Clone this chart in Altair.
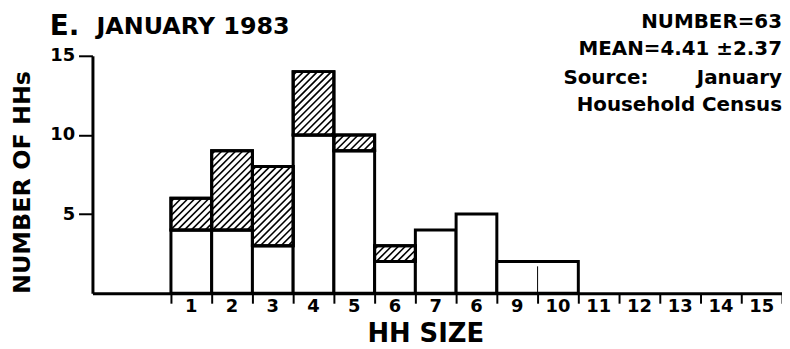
import altair as alt
import pandas as pd
import numpy as np

# ---- data ----
bin_start = [0, 1, 2, 3, 4, 5, 6, 7, 8]
bin_end = [1, 2, 3, 4, 5, 6, 7, 8, 10]
white_counts = [4, 4, 3, 10, 9, 2, 4, 5, 2]
hatched_counts = [2, 5, 5, 4, 1, 1, 0, 0, 0]
x_labels = ["1", "2", "3", "4", "5", "6", "7", "6", "9", "10", "11", "12", "13", "14", "15"]
divider_x = [9]
divider_top = [1.7]

FONT = "DejaVu Sans"
W, H = 694, 239
XMIN, XMAX = -79 / 41, 15
YMIN, YMAX = 0, 15
PX = W / (XMAX - XMIN)
PY = H / (YMAX - YMIN)

bars = pd.DataFrame({
    "start": bin_start, "end": bin_end,
    "white": white_counts,
    "top": [w + h for w, h in zip(white_counts, hatched_counts)],
    "hatched": hatched_counts,
})
bars["zero"] = 0
hat = bars[bars["hatched"] > 0]

# hatch segments inside each hatched rectangle ("/" direction)
SP = 7.0
segs = []
for _, r in hat.iterrows():
    w = (r["end"] - r["start"]) * PX
    h = (r["top"] - r["white"]) * PY
    c = -h + SP / 2
    while c < w:
        xa = max(0.0, c)
        xb = min(w, c + h)
        if xb - xa > 0.5:
            segs.append({
                "x": r["start"] + xa / PX, "y": r["white"] + (xa - c) / PY,
                "x2": r["start"] + xb / PX, "y2": r["white"] + (xb - c) / PY,
            })
        c += SP
segs = pd.DataFrame(segs)

xscale = alt.Scale(domain=[XMIN, XMAX], nice=False, zero=False)
yscale = alt.Scale(domain=[YMIN, YMAX], nice=False)

white_bars = alt.Chart(bars).mark_rect(fill="white", stroke="black", strokeWidth=3).encode(
    x=alt.X("start:Q", scale=xscale, axis=alt.Axis(
        values=list(range(16)), labels=False, tickSize=10, tickWidth=2, domainWidth=3,
        grid=False, title="HH SIZE", titleFont=FONT, titleFontSize=26, titleFontWeight="bold",
        titleX=335, titleY=49, titleBaseline="alphabetic", titleAlign="center")),
    x2="end:Q",
    y=alt.Y("zero:Q", scale=yscale, axis=alt.Axis(
        values=[5, 10, 15], tickSize=14, tickWidth=2, domainWidth=3, grid=False,
        labelFont=FONT, labelFontSize=18, labelFontWeight="bold", labelPadding=4,
        title="NUMBER OF HHs", titleFont=FONT, titleFontSize=24, titleFontWeight="bold",
        titleAngle=270, titleX=-70, titleY=127, titleBaseline="middle", titleAlign="center")),
    y2="white:Q",
)

hat_bars = alt.Chart(hat).mark_rect(fill="white", stroke="black", strokeWidth=3).encode(
    x=alt.X("start:Q", scale=xscale), x2="end:Q",
    y=alt.Y("white:Q", scale=yscale), y2="top:Q",
)

hatch = alt.Chart(segs).mark_rule(color="black", strokeWidth=1.6).encode(
    x=alt.X("x:Q", scale=xscale), x2="x2:Q",
    y=alt.Y("y:Q", scale=yscale), y2="y2:Q",
)

hat_outline = alt.Chart(hat).mark_rect(fill="white", fillOpacity=0, stroke="black", strokeWidth=3).encode(
    x=alt.X("start:Q", scale=xscale), x2="end:Q",
    y=alt.Y("white:Q", scale=yscale), y2="top:Q",
)

div_df = pd.DataFrame({"x": divider_x, "top": divider_top, "zero": [0] * len(divider_x)})
divider = alt.Chart(div_df).mark_rule(color="black", strokeWidth=1).encode(
    x=alt.X("x:Q", scale=xscale),
    y=alt.Y("zero:Q", scale=yscale), y2="top:Q",
)

lab_df = pd.DataFrame({"pos": [i + 0.5 for i in range(len(x_labels))], "lab": x_labels})
xlabels = alt.Chart(lab_df).mark_text(
    font=FONT, fontSize=18, fontWeight="bold", baseline="alphabetic", align="center", color="black"
).encode(x=alt.X("pos:Q", scale=xscale), y=alt.value(258), text="lab:N")


def txt(s, x, y, size, align="left"):
    return alt.Chart(alt.Data(values=[{}])).mark_text(
        font=FONT, fontSize=size, fontWeight="bold", align=align, baseline="alphabetic", color="black"
    ).encode(x=alt.value(x), y=alt.value(y), text=alt.value(s))


texts = [
    txt("E.", -43, -21, 28),
    txt("JANUARY 1983", 4, -22, 24),
    txt("NUMBER=63", 694, -28, 20, "right"),
    txt("MEAN=4.41  ±2.37", 694, -1, 20, "right"),
    txt("Source:", 474, 28, 20, "left"),
    txt("January", 694, 28, 20, "right"),
    txt("Household Census", 694, 56, 20, "right"),
]

chart = alt.layer(white_bars, hat_bars, hatch, hat_outline, divider, xlabels, *texts).properties(
    width=W, height=H,
    padding={"left": 85, "top": 47, "right": 0, "bottom": 55},
    autosize=alt.AutoSizeParams(type="none"),
).configure_view(stroke=None).configure_axis(
    domainColor="black", tickColor="black", labelColor="black", titleColor="black"
)

chart.save("out.html", embed_options={"renderer": "svg", "actions": False})
